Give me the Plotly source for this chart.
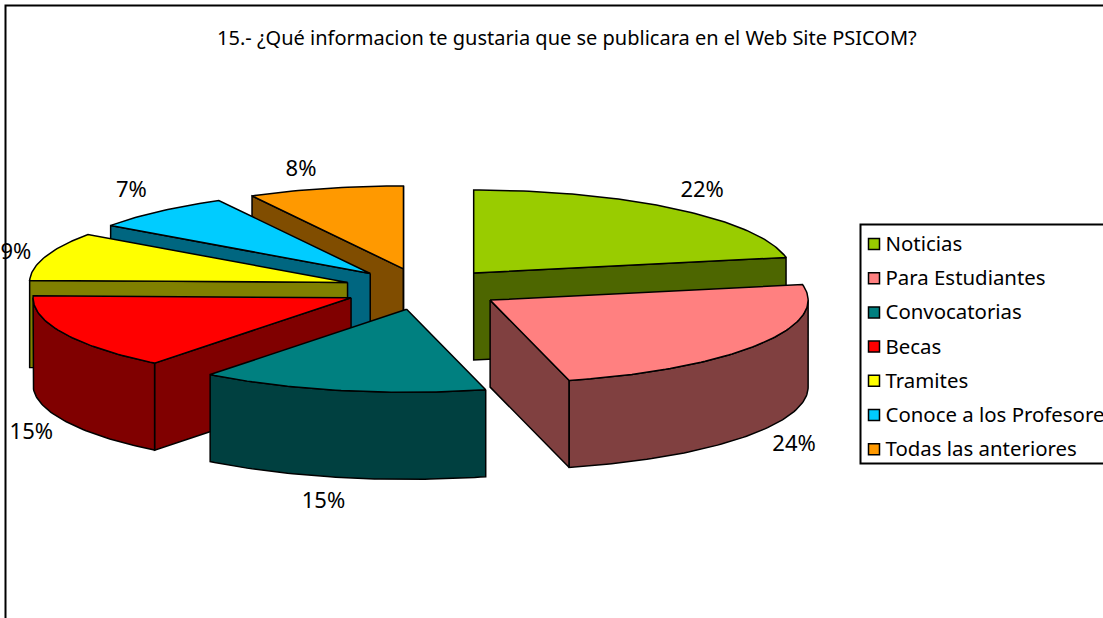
import math
import plotly.graph_objects as go

title_text = "15.- ¿Qué informacion te gustaria que se publicara en el Web Site PSICOM?"
categories = ["Noticias", "Para Estudiantes", "Convocatorias", "Becas", "Tramites",
              "Conoce a los Profesores", "Todas las anteriores"]
values = [22, 24, 14.6, 14.8, 9.4, 7.3, 7.9]
top_colors = ["#99CC00", "#FF8080", "#008080", "#FF0000", "#FFFF00", "#00CCFF", "#FF9900"]
side_colors = ["#4D6600", "#804040", "#004040", "#800000", "#808000", "#006680", "#804D00"]
label_nudge = [(-1, 2), (0, 0), (-9, 0), (6, 2), (10, 5), (0, 0), (-14, 7)]

CX, CY, RX, RY, DEPTH, EXPLODE = 423, 289, 318, 83, 87, 0.25
FONT = "Noto Sans"
LINE = dict(color="black", width=1.5)


def rim(ax, ay, deg, dy=0):
    a = math.radians(deg)
    return ax + RX * math.sin(a), ay - RY * math.cos(a) + dy


def arc(ax, ay, a0, a1, dy=0):
    n = max(2, int(abs(a1 - a0)) + 1)
    return [rim(ax, ay, a0 + (a1 - a0) * i / (n - 1), dy) for i in range(n)]


def poly(fig, pts, color):
    xs = [p[0] for p in pts] + [pts[0][0]]
    ys = [p[1] for p in pts] + [pts[0][1]]
    fig.add_trace(go.Scatter(x=xs, y=ys, mode="lines", fill="toself", fillcolor=color,
                             line=LINE, hoverinfo="skip", showlegend=False))


total = sum(values)
slices = []
start = 0.0
for name, v, top, side, nudge in zip(categories, values, top_colors, side_colors, label_nudge):
    sweep = 360.0 * v / total
    mid = start + sweep / 2
    m = math.radians(mid)
    ax = CX + EXPLODE * RX * math.sin(m)
    ay = CY - EXPLODE * RY * math.cos(m)
    slices.append(dict(a0=start, a1=start + sweep, mid=mid, ax=ax, ay=ay, top=top, side=side,
                       v=v, nudge=nudge))
    start += sweep

fig = go.Figure()
for s in sorted(slices, key=lambda d: -math.cos(math.radians(d["mid"]))):
    ax, ay, a0, a1 = s["ax"], s["ay"], s["a0"], s["a1"]
    if math.sin(math.radians(a0)) < 0:
        p = rim(ax, ay, a0)
        poly(fig, [(ax, ay), p, (p[0], p[1] + DEPTH), (ax, ay + DEPTH)], s["side"])
    if math.sin(math.radians(a1)) > 0:
        p = rim(ax, ay, a1)
        poly(fig, [(ax, ay), p, (p[0], p[1] + DEPTH), (ax, ay + DEPTH)], s["side"])
    lo, hi = max(a0, 90), min(a1, 270)
    if lo < hi:
        poly(fig, arc(ax, ay, lo, hi) + arc(ax, ay, hi, lo, DEPTH), s["side"])
    poly(fig, [(ax, ay)] + arc(ax, ay, a0, a1), s["top"])

# percentage labels, placed just outside each slice's rim
lx, ly, lt = [], [], []
for s in slices:
    m = math.radians(s["mid"])
    front = 90 < s["mid"] < 270
    x, y = rim(s["ax"], s["ay"], s["mid"], DEPTH if front else 0)
    lx.append(x + 42 * math.sin(m) + s["nudge"][0])
    ly.append(y - 26 * math.cos(m) + s["nudge"][1])
    lt.append(f'{round(s["v"])}%')
fig.add_trace(go.Scatter(x=lx, y=ly, mode="text", text=lt, textposition="middle center",
                         textfont=dict(family=FONT, size=22, color="black"),
                         hoverinfo="skip", showlegend=False, cliponaxis=False))

# legend
LEG_X, LEG_TEXT_X, LEG_Y, LEG_STEP = 874, 885.5, 244, 34.2
leg_y = [LEG_Y + i * LEG_STEP for i in range(len(categories))]
fig.add_trace(go.Scatter(
    x=[LEG_X] * len(categories), y=leg_y, mode="markers",
    marker=dict(symbol="square", size=11, color=top_colors, line=dict(color="black", width=1.5)),
    hoverinfo="skip", showlegend=False))
fig.add_trace(go.Scatter(
    x=[LEG_TEXT_X] * len(categories), y=[v + 2 for v in leg_y], mode="text", text=categories,
    textposition="middle right", textfont=dict(family=FONT, size=20.4, color="black"),
    hoverinfo="skip", showlegend=False))

FRAME = dict(color="black", width=2)
fig.update_layout(
    width=1103, height=618, margin=dict(l=0, r=0, t=0, b=0),
    paper_bgcolor="white", plot_bgcolor="white", showlegend=False,
    xaxis=dict(range=[0, 1103], visible=False, fixedrange=True),
    yaxis=dict(range=[618, 0], visible=False, fixedrange=True),
    shapes=[
        dict(type="rect", x0=5.5, y0=5.5, x1=1300, y1=900, line=FRAME, layer="below"),
        dict(type="rect", x0=860.5, y0=224.5, x1=1300, y1=463.5, line=FRAME, layer="below"),
    ],
    annotations=[dict(text=title_text, x=567, y=37, xref="x", yref="y", showarrow=False,
                      font=dict(family=FONT, size=20, color="black"))],
)
fig.write_html("out.html", config={"displayModeBar": False},
               post_script="document.body.style.margin='0';")
